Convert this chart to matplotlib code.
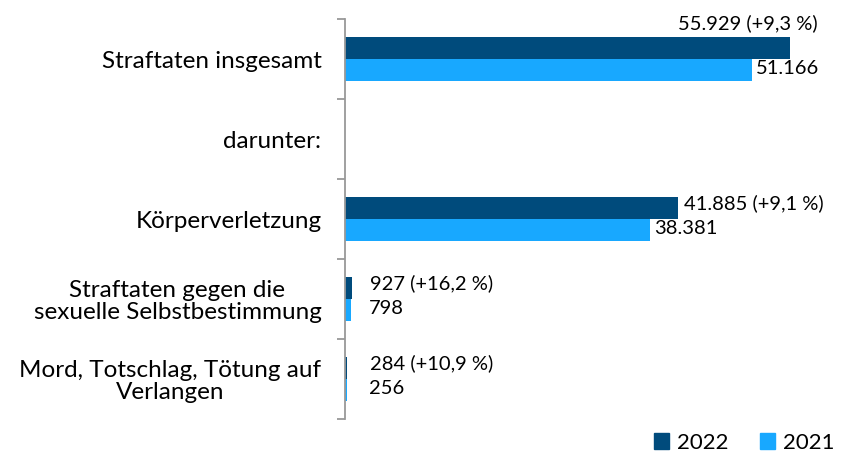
import matplotlib.pyplot as plt
import numpy as np

plt.rcParams['font.family'] = ['Lato', 'DejaVu Sans']

categories = ["Straftaten insgesamt", "darunter:", "Körperverletzung",
              "Straftaten gegen die\nsexuelle Selbstbestimmung",
              "Mord, Totschlag, Tötung auf\nVerlangen"]
vals_2022 = [55929, None, 41885, 927, 284]
vals_2021 = [51166, None, 38381, 798, 256]
labels_2022 = ["55.929 (+9,3 %)", "", "41.885 (+9,1 %)", "927 (+16,2 %)", "284 (+10,9 %)"]
labels_2021 = ["51.166", "", "38.381", "798", "256"]

c22 = "#004b7c"
c21 = "#18a8ff"
val_fs = 14.5
cat_fs = 17.5

fig = plt.figure(figsize=(8.54, 4.55), dpi=100)
ax = fig.add_axes([345 / 854, 1 - 419 / 455, 477 / 854, 400 / 455])

y = np.arange(len(categories))
h = 0.28
for i in range(len(categories)):
    if vals_2022[i] is None:
        continue
    ax.barh(y[i] - h / 2, vals_2022[i], height=h, color=c22)
    ax.barh(y[i] + h / 2, vals_2021[i], height=h, color=c21)
    if i == 0:
        ax.annotate(labels_2022[i], (vals_2022[i], y[i] - h), xytext=(20, 3),
                    textcoords="offset points", ha="right", va="bottom", fontsize=val_fs)
    else:
        ax.annotate(labels_2022[i], (max(vals_2022[i], 2500), y[i] - h / 2), xytext=(4, 3),
                    textcoords="offset points", ha="left", va="center", fontsize=val_fs)
    ax.annotate(labels_2021[i], (max(vals_2021[i], 2500), y[i] + h / 2), xytext=(3, 1),
                textcoords="offset points", ha="left", va="center", fontsize=val_fs)

ax.set_xlim(0, 60000)
ax.set_ylim(len(categories) - 0.5, -0.5)
ax.set_yticks(y)
ax.set_yticklabels(categories, fontsize=cat_fs, multialignment="center", linespacing=1.05)
ax.set_yticks(np.arange(-0.5, len(categories)), minor=True)
ax.tick_params(axis="y", which="major", length=0, pad=17)
ax.tick_params(axis="y", which="minor", length=6, width=1.3, color="#999999")
ax.set_xticks([])
for s in ["top", "right", "bottom"]:
    ax.spines[s].set_visible(False)
ax.spines["left"].set_color("#999999")
ax.spines["left"].set_linewidth(1.3)

handles = [plt.Rectangle((0, 0), 1, 1, color=c22), plt.Rectangle((0, 0), 1, 1, color=c21)]
fig.legend(handles, ["2022", "2021"], loc="center right", bbox_to_anchor=(0.99, 1 - 443 / 455),
           ncol=2, frameon=False, fontsize=16, handlelength=0.7, handleheight=0.7,
           handletextpad=0.35, columnspacing=1.4, borderpad=0)

fig.savefig("out.png", dpi=100)
